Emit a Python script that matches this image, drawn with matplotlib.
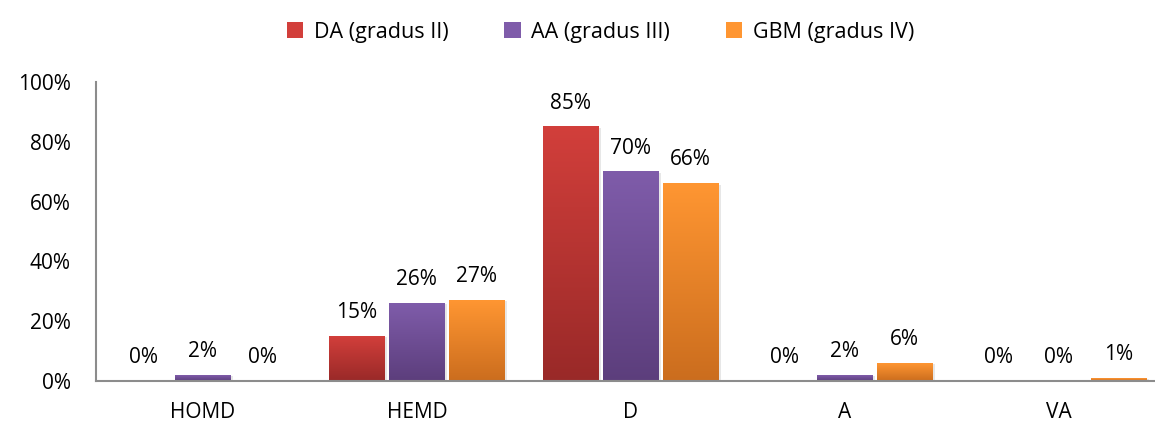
import numpy as np
import matplotlib
matplotlib.use("Agg")
import matplotlib.pyplot as plt
from matplotlib.colors import LinearSegmentedColormap
from matplotlib.patches import Patch

plt.rcParams['font.family'] = ['Open Sans', 'DejaVu Sans']

categories = ["HOMD", "HEMD", "D", "A", "VA"]
series_names = ["DA (gradus II)", "AA (gradus III)", "GBM (gradus IV)"]
da_values = [0, 15, 85, 0, 0]
aa_values = [2, 26, 70, 2, 0]
gbm_values = [0, 27, 66, 6, 1]
yticks = [0, 20, 40, 60, 80, 100]

colors_top = ["#D23F3B", "#7F5CAA", "#FF9632"]
colors_bot = ["#992928", "#5C3E7C", "#CB6D1E"]
FS = 15

fig = plt.figure(figsize=(11.55, 4.25), dpi=100)
ax = fig.add_axes([96/1155, 1-381/425, 1-96/1155, (381-82)/425])

x = np.arange(len(categories))
width = 0.26
offsets = [-0.28, 0.0, 0.28]
all_vals = [da_values, aa_values, gbm_values]

grad = np.linspace(0, 1, 256).reshape(-1, 1)
for i, vals in enumerate(all_vals):
    bars = ax.bar(x + offsets[i], vals, width, color=colors_top[i], zorder=2)
    cmap = LinearSegmentedColormap.from_list(f"g{i}", [colors_bot[i], colors_top[i]])
    for b, v in zip(bars, vals):
        bx, by = b.get_x(), b.get_y()
        bw, bh = b.get_width(), b.get_height()
        if bh > 0:
            ax.bar(bx + bw/2 + 0.012, bh, bw, bottom=-0.4, color="#00000018", zorder=1.5, linewidth=0)
            b.set_facecolor("none")
            ax.imshow(grad, extent=[bx, bx + bw, by, by + bh], origin="lower",
                      aspect="auto", cmap=cmap, zorder=2)
        ax.annotate(f"{v}%", (bx + bw/2, bh), xytext=(0, 9.5), textcoords="offset points",
                    ha="center", va="bottom", fontsize=FS, color="#000000")

ax.set_xlim(-0.5, 4.45)
ax.set_ylim(0, 100)
ax.set_yticks(yticks)
ax.set_yticklabels([f"{t}%" for t in yticks], fontsize=FS)
ax.set_xticks(x)
ax.set_xticklabels(categories, fontsize=FS)
ax.tick_params(axis="y", length=0, pad=18)
ax.tick_params(axis="x", length=0, pad=15)
for s in ["top", "right"]:
    ax.spines[s].set_visible(False)
for s in ["left", "bottom"]:
    ax.spines[s].set_color("#8C8C8C")
    ax.spines[s].set_linewidth(1.5)
ax.spines["bottom"].set_zorder(3)

handles = [Patch(facecolor=colors_top[i], edgecolor="none") for i in range(3)]
fig.legend(handles, series_names, loc="upper center", bbox_to_anchor=(0.52, 0.995), ncol=3,
           frameon=False, fontsize=15.5, handlelength=0.75, handleheight=0.75,
           handletextpad=0.5, columnspacing=2.6)

fig.savefig("out.png", dpi=100)
